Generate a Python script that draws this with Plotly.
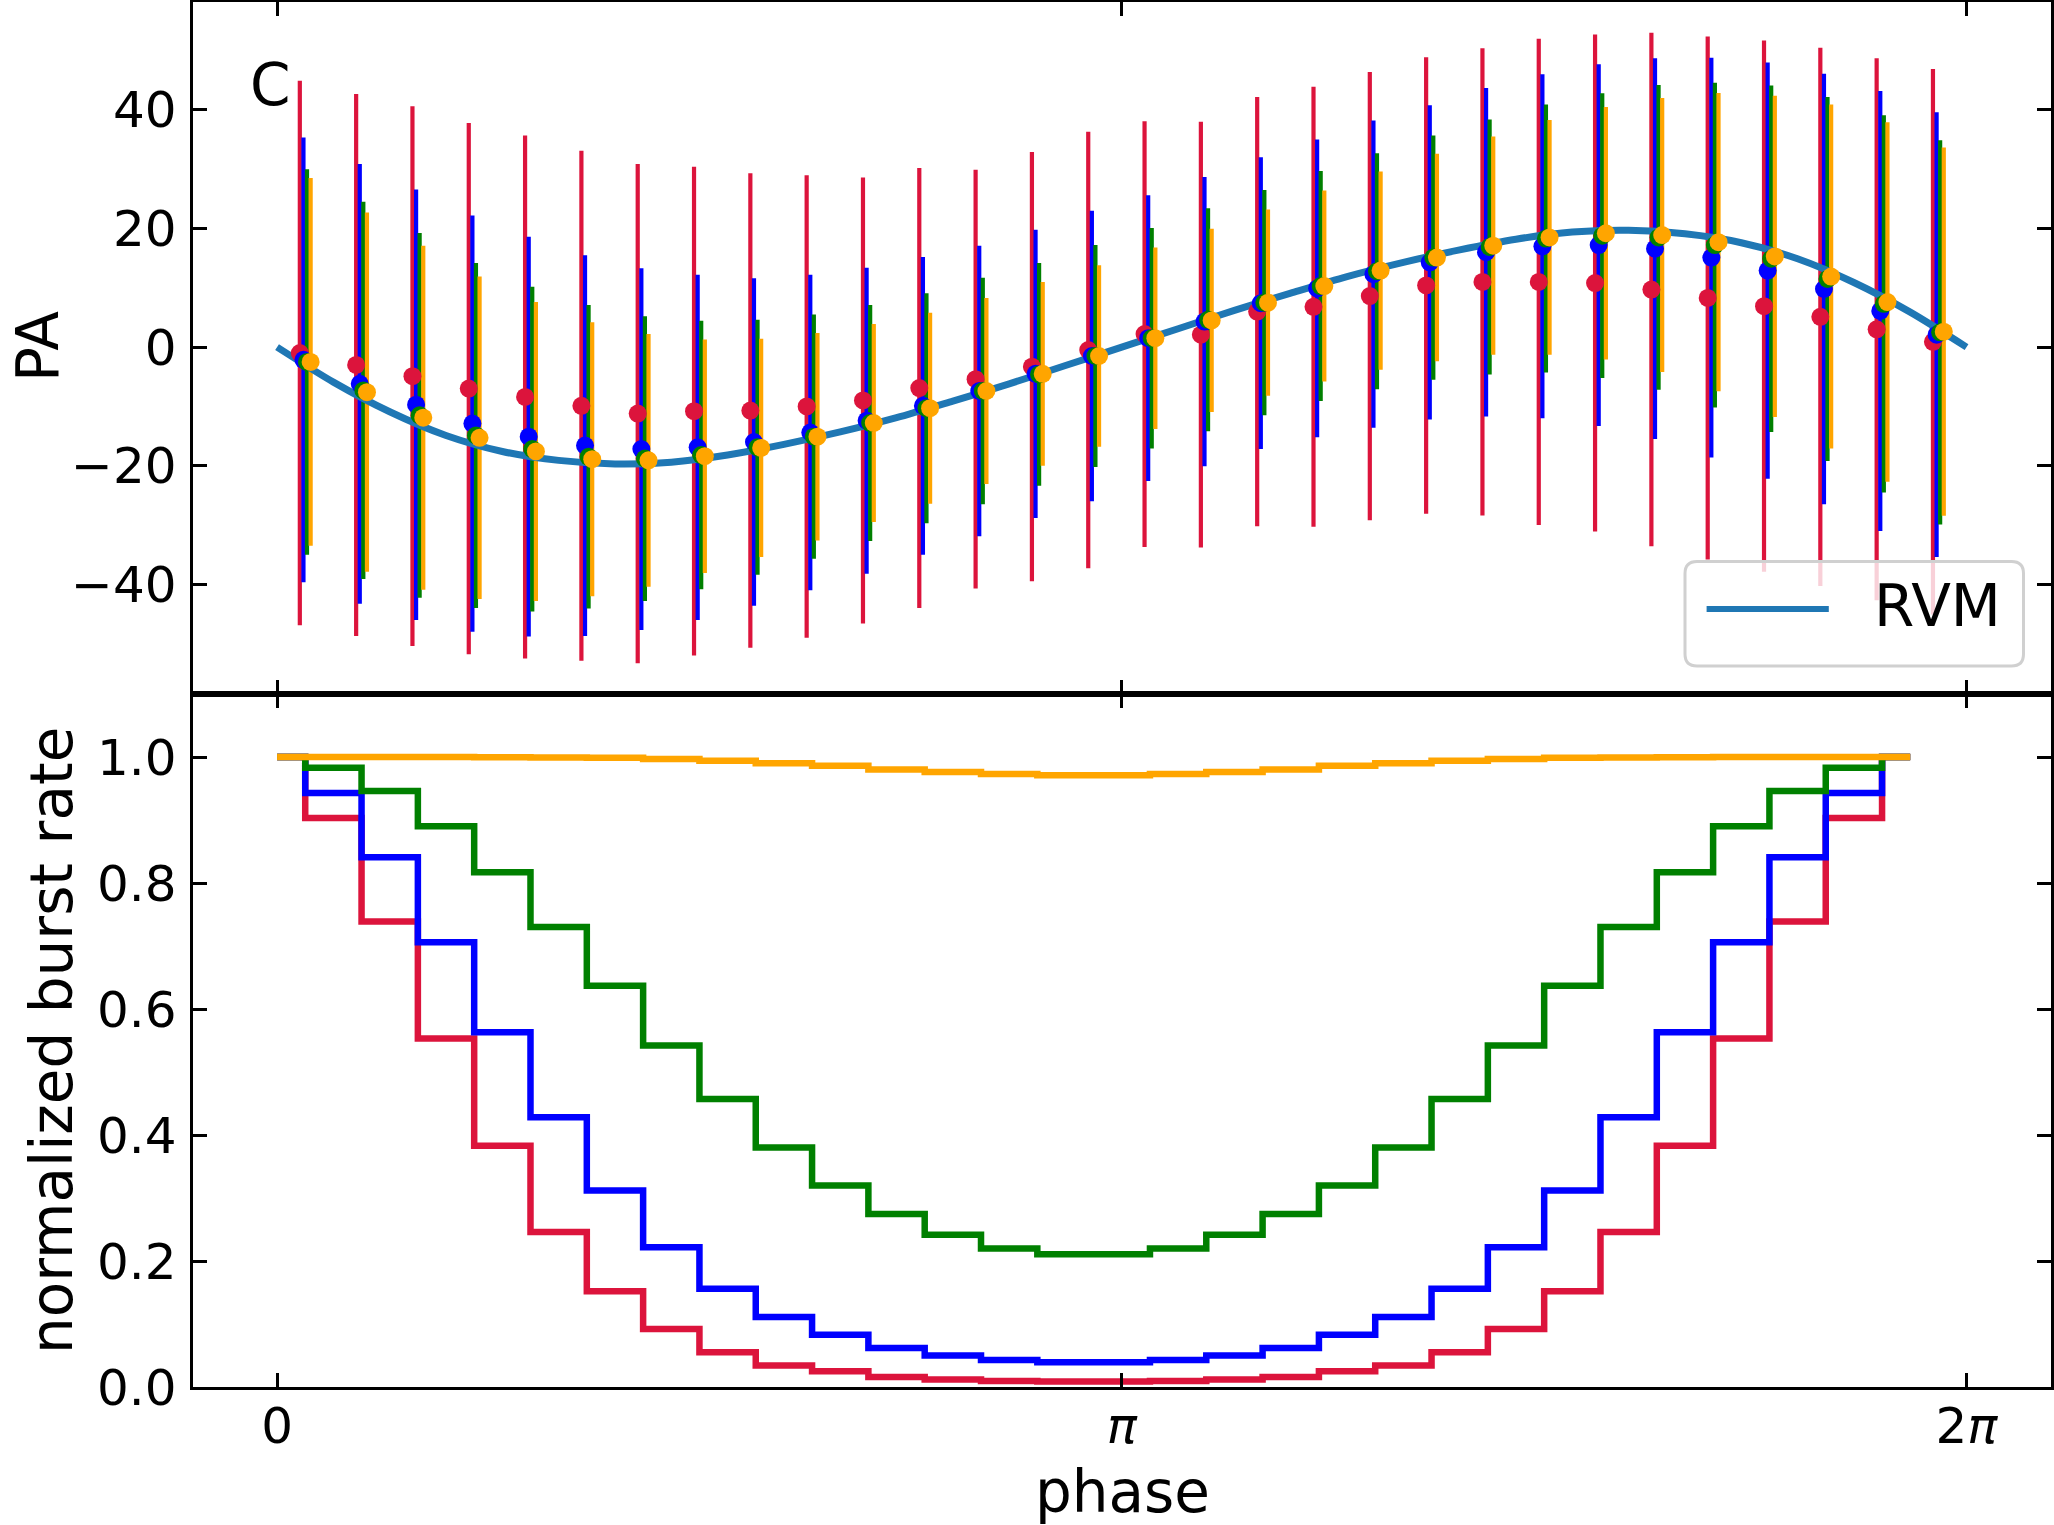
import math
import plotly.graph_objects as go

PI = math.pi
W, H = 2054, 1525

# ---------------- data ----------------
n_bins = 30
bin_centers = [(2 * k + 1) * PI / n_bins for k in range(n_bins)]
bin_edges = [2 * k * PI / n_bins for k in range(n_bins)]

series_names = ["red", "blue", "green", "orange"]
series_colors = ["#DC143C", "#0000FF", "#008000", "#FFA500"]

red_pa = [-1.0, -3.0, -4.9, -7.0, -8.4, -9.9, -11.2, -10.8, -10.7, -10.0,
          -9.0, -6.9, -5.4, -3.3, -0.5, 2.2, 2.1, 6.0, 6.8, 8.6,
          10.4, 11.0, 11.0, 10.8, 9.7, 8.3, 6.9, 5.1, 3.0, 0.9]
red_err = [45.9, 45.7, 45.5, 44.8, 44.1, 43.0, 42.1, 41.2, 40.0, 39.0,
           37.6, 37.1, 35.3, 36.2, 36.8, 35.9, 35.9, 36.2, 37.1, 37.8,
           38.5, 39.4, 41.0, 41.9, 43.3, 44.1, 44.8, 45.4, 45.7, 46.0]

blue_pa = [-2.15, -6.2, -9.7, -12.9, -15.1, -16.6, -17.2, -16.9, -16.0, -14.4,
           -12.4, -9.9, -7.4, -4.5, -1.5, 1.5, 4.3, 7.4, 9.9, 12.3,
           14.3, 16.0, 17.0, 17.2, 16.6, 15.1, 12.9, 9.8, 6.1, 2.1]
blue_err = [37.5, 37.1, 36.3, 35.1, 33.7, 32.1, 30.5, 29.1, 27.6, 26.6,
            25.8, 25.1, 24.5, 24.3, 24.5, 24.1, 24.4, 24.6, 25.1, 25.9,
            26.5, 27.7, 29.0, 30.5, 32.1, 33.7, 35.1, 36.3, 37.1, 37.5]

green_pa = [-2.5, -7.3, -11.5, -14.9, -17.2, -18.5, -18.8, -18.2, -16.9, -15.1,
            -12.8, -10.3, -7.4, -4.6, -1.5, 1.5, 4.6, 7.5, 10.3, 12.8,
            15.1, 16.9, 18.3, 18.8, 18.5, 17.2, 14.9, 11.5, 7.3, 2.5]
green_err = [32.5, 31.8, 30.75, 29.1, 27.4, 25.6, 24.0, 22.65, 21.5, 20.6,
             19.9, 19.4, 19.1, 18.8, 18.7, 18.6, 18.8, 19.0, 19.4, 19.9,
             20.6, 21.5, 22.6, 24.0, 25.7, 27.4, 29.2, 30.7, 31.8, 32.4]

orange_pa = [-2.5, -7.6, -11.9, -15.3, -17.6, -18.9, -19.1, -18.4, -17.0, -15.1,
             -12.8, -10.3, -7.4, -4.5, -1.5, 1.5, 4.5, 7.5, 10.3, 12.9,
             15.1, 17.1, 18.5, 19.2, 18.9, 17.7, 15.3, 11.9, 7.6, 2.6]
orange_err = [31.0, 30.3, 29.0, 27.2, 25.2, 23.1, 21.3, 19.7, 18.4, 17.5,
              16.7, 16.1, 15.7, 15.5, 15.3, 15.3, 15.45, 15.7, 16.1, 16.7,
              17.5, 18.4, 19.8, 21.3, 23.1, 25.15, 27.1, 29.0, 30.3, 31.05]

# RVM curve read at phase = k*pi/15
rvm_phase = [k * PI / 15 for k in range(31)]
rvm_pa = [0.0, -5.9, -10.9, -14.9, -17.6, -19.1, -19.7, -19.4, -18.2, -16.4,
          -14.3, -11.9, -9.1, -6.2, -3.1, 0.0, 3.1, 6.2, 9.1, 11.9,
          14.3, 16.4, 18.2, 19.4, 19.7, 19.1, 17.6, 14.9, 10.9, 5.9, 0.0]

# normalized burst rate (drawn with steps-mid at bin left edges)
red_rate = [1.0, 0.903, 0.739, 0.553, 0.383, 0.246, 0.152, 0.092, 0.055, 0.034,
            0.025, 0.016, 0.012, 0.0095, 0.0088, 0.0088, 0.0095, 0.012, 0.016, 0.025,
            0.034, 0.055, 0.092, 0.152, 0.246, 0.383, 0.553, 0.739, 0.903, 1.0]
blue_rate = [1.0, 0.943, 0.841, 0.706, 0.563, 0.428, 0.312, 0.222, 0.156, 0.111,
             0.083, 0.062, 0.050, 0.043, 0.0394, 0.0394, 0.043, 0.050, 0.062, 0.083,
             0.111, 0.156, 0.222, 0.312, 0.428, 0.563, 0.706, 0.841, 0.943, 1.0]
green_rate = [1.0, 0.983, 0.946, 0.890, 0.817, 0.730, 0.637, 0.542, 0.457, 0.380,
              0.320, 0.2745, 0.2416, 0.220, 0.2106, 0.2106, 0.220, 0.2416, 0.2745, 0.320,
              0.380, 0.457, 0.542, 0.637, 0.730, 0.817, 0.890, 0.946, 0.983, 1.0]
orange_rate = [1.0, 1.0, 1.0, 1.0, 0.9995, 0.9993, 0.999, 0.997, 0.994, 0.990,
               0.986, 0.980, 0.976, 0.973, 0.971, 0.971, 0.973, 0.976, 0.980, 0.986,
               0.990, 0.994, 0.997, 0.999, 0.9993, 0.9995, 1.0, 1.0, 1.0, 1.0]

x_tick_vals = [0, PI, 2 * PI]
x_tick_text = ["0", "<i>π</i>", "2<i>π</i>"]
pa_tick_vals = [-40, -20, 0, 20, 40]
pa_tick_text = ["−40", "−20", "0", "20", "40"]
rate_tick_vals = [0.0, 0.2, 0.4, 0.6, 0.8, 1.0]
rate_tick_text = ["0.0", "0.2", "0.4", "0.6", "0.8", "1.0"]

# ---------------- style ----------------
FONT = "DejaVu Sans"
TICK_FS = 50
LABEL_FS = 58
series_offsets = [-0.0064 * PI, -0.0021 * PI, 0.0021 * PI, 0.0064 * PI]

pa_values = [red_pa, blue_pa, green_pa, orange_pa]
pa_errors = [red_err, blue_err, green_err, orange_err]
rate_values = [red_rate, blue_rate, green_rate, orange_rate]

fig = go.Figure()

# error bars first (below every marker, as in matplotlib's errorbar z-order)
for name, col, off, vals, errs in zip(series_names, series_colors, series_offsets,
                                      pa_values, pa_errors):
    fig.add_trace(go.Scatter(
        x=[c + off for c in bin_centers], y=vals, mode="markers", name=name + " err",
        marker=dict(color=col, size=1, opacity=0),
        error_y=dict(type="data", array=errs, symmetric=True, color=col,
                     thickness=4.2, width=0),
        xaxis="x", yaxis="y", showlegend=False, hoverinfo="skip"))

fig.add_trace(go.Scatter(
    x=rvm_phase, y=rvm_pa, mode="lines", name="RVM",
    line=dict(color="#1f77b4", width=7, shape="spline", smoothing=0.8),
    xaxis="x", yaxis="y", showlegend=False))

for name, col, off, vals in zip(series_names, series_colors, series_offsets, pa_values):
    fig.add_trace(go.Scatter(
        x=[c + off for c in bin_centers], y=vals, mode="markers", name=name,
        marker=dict(color=col, size=18, line=dict(width=0)),
        xaxis="x", yaxis="y", showlegend=False))

for name, col, vals in zip(series_names, series_colors, rate_values):
    fig.add_trace(go.Scatter(
        x=bin_edges, y=vals, mode="lines", name=name,
        line=dict(color=col, width=6.5, shape="hvh"),
        xaxis="x2", yaxis="y2", showlegend=False))

xdom = [192.6 / W, 2051 / W]
top_dom = [1 - 694 / H, 1 - 2 / H]
bot_dom = [1 - 1387 / H, 1 - 694 / H]

axis_common = dict(showline=True, linecolor="black", linewidth=3, mirror="ticks",
                   ticks="inside", ticklen=14, tickwidth=2.7, tickcolor="black",
                   showgrid=False, zeroline=False, automargin=False,
                   tickfont=dict(family=FONT, size=TICK_FS, color="black"))

fig.update_layout(
    width=W, height=H,
    margin=dict(l=0, r=0, t=0, b=0, pad=0, autoexpand=False),
    paper_bgcolor="white", plot_bgcolor="white",
    font=dict(family=FONT, color="black"),
    xaxis=dict(domain=xdom, anchor="y", range=[-0.1 * PI, 2.1 * PI],
               tickvals=x_tick_vals, ticktext=x_tick_text, showticklabels=False,
               **axis_common),
    yaxis=dict(domain=top_dom, anchor="x", range=[-58.5, 58.2],
               tickvals=pa_tick_vals, ticktext=pa_tick_text, ticklabelstandoff=3,
               **axis_common),
    xaxis2=dict(domain=xdom, anchor="y2", range=[-0.1 * PI, 2.1 * PI],
                tickvals=x_tick_vals, ticktext=x_tick_text, ticklabelstandoff=-7,
                **axis_common),
    yaxis2=dict(domain=bot_dom, anchor="x2", range=[0, 1.1],
                tickvals=rate_tick_vals, ticktext=rate_tick_text, ticklabelstandoff=3,
                **axis_common),
)

# axis titles and panel label
ann = []
ann.append(dict(text="PA", x=38 / W, y=1 - 347 / H, xref="paper", yref="paper",
                textangle=-90, showarrow=False, xanchor="center", yanchor="middle",
                font=dict(family=FONT, size=LABEL_FS, color="black")))
ann.append(dict(text="normalized burst rate", x=52 / W, y=1 - 1041 / H,
                xref="paper", yref="paper", textangle=-90, showarrow=False,
                xanchor="center", yanchor="middle",
                font=dict(family=FONT, size=LABEL_FS, color="black")))
ann.append(dict(text="phase", x=1122 / W, y=1 - 1492 / H, xref="paper", yref="paper",
                showarrow=False, xanchor="center", yanchor="middle",
                font=dict(family=FONT, size=LABEL_FS, color="black")))
ann.append(dict(text="C", x=270 / W, y=1 - 85 / H, xref="paper", yref="paper",
                showarrow=False, xanchor="center", yanchor="middle",
                font=dict(family=FONT, size=LABEL_FS, color="black")))
# legend text
ann.append(dict(text="RVM", x=1872 / W, y=1 - 606 / H, xref="paper", yref="paper",
                showarrow=False, xanchor="left", yanchor="middle",
                font=dict(family=FONT, size=LABEL_FS, color="black")))
fig.update_layout(annotations=ann)

# legend box (rounded) and line sample
lx0, lx1 = 1685 / W, 2023.5 / W
ly_top, ly_bot = 1 - 561.6 / H, 1 - 666 / H
rx, ry = 12 / W, 12 / H
path = (f"M {lx0+rx},{ly_top} L {lx1-rx},{ly_top} Q {lx1},{ly_top} {lx1},{ly_top-ry} "
        f"L {lx1},{ly_bot+ry} Q {lx1},{ly_bot} {lx1-rx},{ly_bot} "
        f"L {lx0+rx},{ly_bot} Q {lx0},{ly_bot} {lx0},{ly_bot+ry} "
        f"L {lx0},{ly_top-ry} Q {lx0},{ly_top} {lx0+rx},{ly_top} Z")
fig.add_shape(type="path", path=path, xref="paper", yref="paper", layer="above",
              fillcolor="rgba(255,255,255,0.8)", line=dict(color="#d0d0d0", width=3))
fig.add_shape(type="line", x0=1706.6 / W, x1=1828.8 / W, y0=1 - 609 / H, y1=1 - 609 / H,
              xref="paper", yref="paper", layer="above",
              line=dict(color="#1f77b4", width=6))

fig.write_html("out.html")
